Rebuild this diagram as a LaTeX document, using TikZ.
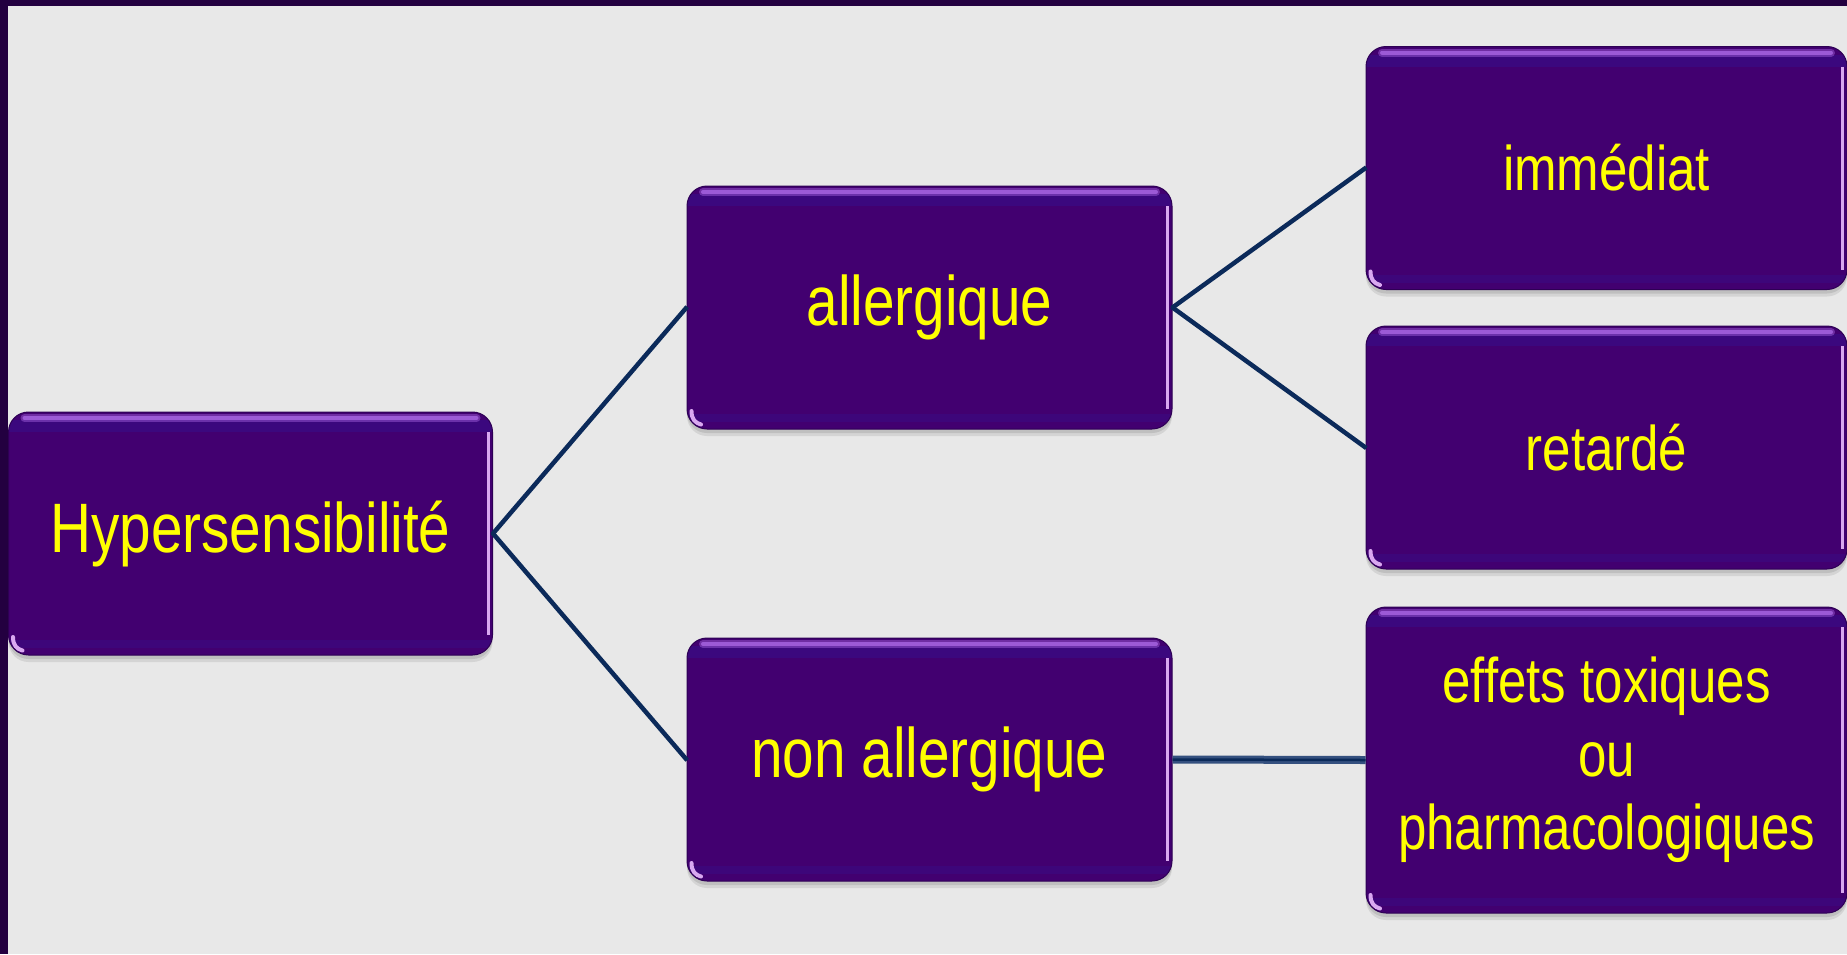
\documentclass[tikz,border=0pt]{standalone}
\usepackage{fontspec}
\newfontfamily\boxfont[FakeStretch=0.81]{Liberation Sans}
\definecolor{bgcol}{HTML}{E8E8E8}
\definecolor{framecol}{HTML}{230040}
\definecolor{boxfill}{HTML}{420070}
\definecolor{boxedge}{HTML}{2E0055}
\definecolor{toplight}{HTML}{9C5AD6}
\definecolor{topband}{HTML}{3A0A82}
\definecolor{rightlight}{HTML}{D9A8F0}
\definecolor{linkcol}{HTML}{0B2A5A}
\definecolor{linkouter}{HTML}{34507F}
\definecolor{txtcol}{HTML}{FFFF00}
\definecolor{shadowcol}{HTML}{9A9A9A}
\begin{document}
\begin{tikzpicture}[x=1pt,y=-1pt,
  glossy/.style={rectangle, rounded corners=20pt, fill=boxfill, draw=boxedge,
    line width=1pt, text=txtcol, align=center, inner sep=0pt,
    preaction={fill=shadowcol, fill opacity=0.25, transform canvas={yshift=-7pt}},
    preaction={fill=shadowcol, fill opacity=0.35, transform canvas={yshift=-4pt}},
    path picture={
      \draw[topband, opacity=0.8, line width=12pt]
        ([yshift=-14pt]path picture bounding box.north west) --
        ([yshift=-14pt]path picture bounding box.north east);
      \draw[toplight, opacity=0.5, line width=8pt, line cap=round]
        ([xshift=16pt,yshift=-6pt]path picture bounding box.north west) --
        ([xshift=-16pt,yshift=-6pt]path picture bounding box.north east);
      \draw[toplight, line width=4pt, line cap=round]
        ([xshift=16pt,yshift=-6pt]path picture bounding box.north west) --
        ([xshift=-16pt,yshift=-6pt]path picture bounding box.north east);
      \draw[topband, opacity=0.6, line width=8pt]
        ([yshift=11pt]path picture bounding box.south west) --
        ([yshift=11pt]path picture bounding box.south east);
      \draw[rightlight, line width=3pt]
        ([xshift=-4.5pt,yshift=-20pt]path picture bounding box.north east) --
        ([xshift=-4.5pt,yshift=20pt]path picture bounding box.south east);
      \draw[rightlight, line width=4pt, line cap=round]
        ([xshift=4.5pt,yshift=18pt]path picture bounding box.south west) ..
        controls ([xshift=4.5pt,yshift=10pt]path picture bounding box.south west)
        and ([xshift=8pt,yshift=6pt]path picture bounding box.south west) ..
        ([xshift=14pt,yshift=4.5pt]path picture bounding box.south west);
    }},
  bigbox/.style={glossy, minimum width=484pt, minimum height=243pt,
    font=\boxfont\fontsize{70}{80}\selectfont},
  rightbox/.style={glossy, minimum width=481pt, minimum height=243pt,
    font=\boxfont\fontsize{63}{73.5}\selectfont},
  link/.style={draw=linkcol, line width=4.5pt},
  linkwide/.style={draw=linkouter, line width=8pt},
  linkcore/.style={draw=linkcol, line width=2.5pt}]
\useasboundingbox (0,0) rectangle (1847,954);
\fill[bgcol] (0,0) rectangle (1847,954);
\fill[framecol] (0,0) rectangle (1847,6);
\fill[framecol] (0,0) rectangle (8,954);

\node[bigbox] (hyp) at (250.5,533.5) {Hypersensibilité};
\node[bigbox, minimum width=485pt] (all) at (929.5,307.5) {allergique};
\node[bigbox, minimum width=485pt] (non) at (929.5,759.5) {non allergique};
\node[rightbox] (imm) at (1606.5,168) {immédiat};
\node[rightbox] (ret) at (1606.5,447.5) {retardé};
\node[rightbox, minimum height=306pt] (eff) at (1606.5,760) {effets toxiques\\ou\\pharmacologiques};

\draw[link, shorten <=-1pt, shorten >=-1pt] (hyp.east) -- (all.west);
\draw[link, shorten <=-1pt, shorten >=-1pt] (hyp.east) -- (non.west);
\draw[link, shorten <=-1pt, shorten >=-1pt] (all.east) -- (imm.west);
\draw[link, shorten <=-1pt, shorten >=-1pt] (all.east) -- (ret.west);
\draw[linkwide] (non.east) -- (eff.west);
\draw[linkcore] (non.east) -- (eff.west);
\end{tikzpicture}
\end{document}
